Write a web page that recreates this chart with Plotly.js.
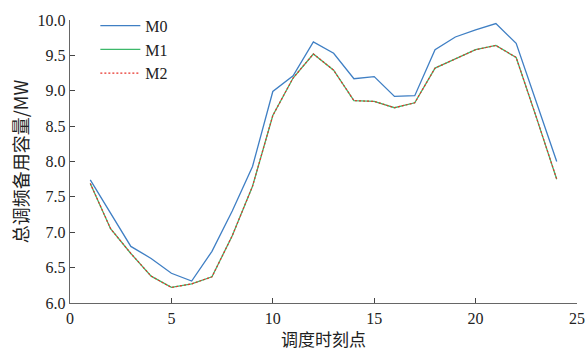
<!DOCTYPE html>
<html>
<head>
<meta charset="utf-8">
<script src="https://cdn.plot.ly/plotly-3.0.1.min.js"></script>
<style>html,body{margin:0;padding:0;background:#fff;}#chart{width:586px;height:353px;}</style>
</head>
<body>
<div id="chart"></div>
<script>
var hours = [1,2,3,4,5,6,7,8,9,10,11,12,13,14,15,16,17,18,19,20,21,22,23,24];
var m0 = [7.74,7.26,6.80,6.63,6.42,6.31,6.73,7.30,7.93,8.99,9.21,9.69,9.53,9.17,9.20,8.92,8.93,9.58,9.76,9.86,9.95,9.67,8.84,8.00];
var m1 = [7.69,7.05,6.70,6.38,6.22,6.27,6.37,6.95,7.65,8.65,9.18,9.52,9.29,8.86,8.85,8.76,8.83,9.32,9.45,9.58,9.64,9.47,8.62,7.75];
var m2 = [7.69,7.05,6.70,6.38,6.22,6.27,6.37,6.95,7.65,8.65,9.18,9.52,9.29,8.86,8.85,8.76,8.83,9.32,9.45,9.58,9.64,9.47,8.62,7.75];
var names = ['M0','M1','M2'];
var xTitle = '调度时刻点';
var yTitle = '总调频备用容量/MW';

var serif = '"Liberation Serif", "Times New Roman", "Noto Sans CJK SC", serif';
var cjk = '"Noto Sans CJK SC", serif';
var traces = [
  {x: hours, y: m0, name: names[0], mode: 'lines', line: {color: '#3f7fc4', width: 1.3}},
  {x: hours, y: m1, name: names[1], mode: 'lines', line: {color: '#3cb86a', width: 1.3}},
  {x: hours, y: m2, name: names[2], mode: 'lines', line: {color: '#e8322a', width: 1.2, dash: '2px,2px'}}
];
var axisCommon = {
  showgrid: false, zeroline: false, showline: true, linecolor: '#666', linewidth: 1.3,
  ticks: 'inside', ticklen: 5, tickcolor: '#444', tickwidth: 1.2,
  tickfont: {family: serif, size: 16, color: '#222'}
};
var layout = {
  width: 586, height: 353,
  margin: {l: 70, r: 9, t: 15, b: 50},
  paper_bgcolor: '#fff', plot_bgcolor: '#fff',
  showlegend: true,
  legend: {x: 0.05, y: 1.04, xanchor: 'left', yanchor: 'top', bgcolor: 'rgba(0,0,0,0)',
           font: {family: serif, size: 16, color: '#222'}, tracegroupgap: 0, itemwidth: 40},
  xaxis: Object.assign({}, axisCommon, {range: [0, 25], tickvals: [0,5,10,15,20,25],
     title: {text: xTitle, font: {family: cjk, size: 17, color: '#222'}, standoff: 8}}),
  yaxis: Object.assign({}, axisCommon, {range: [6, 10], tickvals: [6,6.5,7,7.5,8,8.5,9,9.5,10], tickformat: '.1f',
     title: {text: yTitle, font: {family: cjk, size: 18, color: '#222'}, standoff: 4}})
};
Plotly.newPlot('chart', traces, layout, {displayModeBar: false, staticPlot: true});
</script>
</body>
</html>
